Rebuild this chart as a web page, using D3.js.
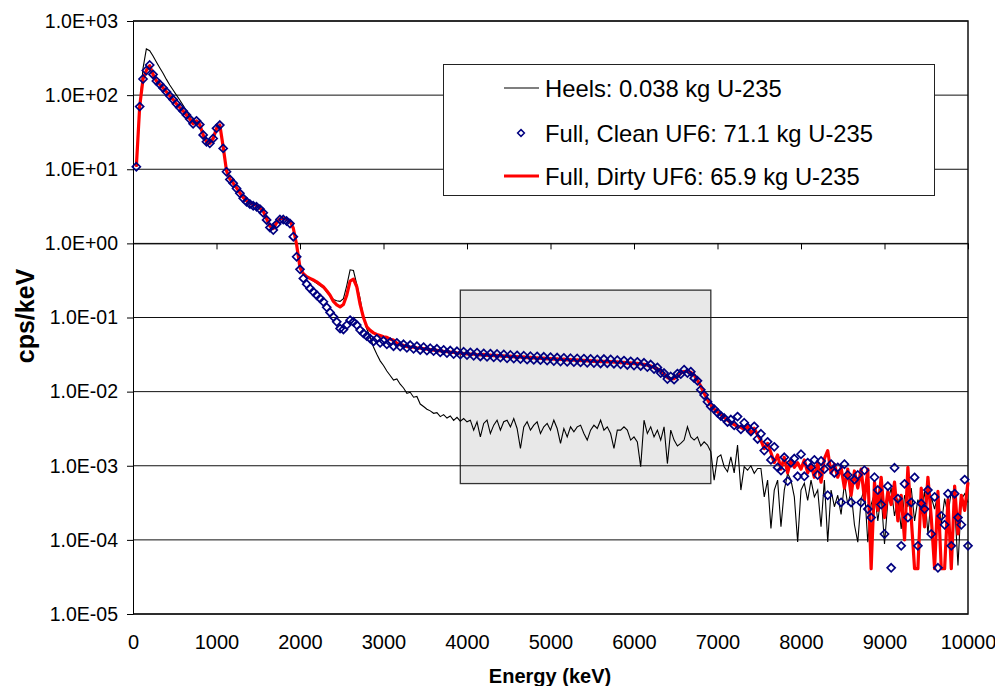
<!DOCTYPE html>
<html>
<head>
<meta charset="utf-8">
<script src="https://cdn.jsdelivr.net/npm/d3@7"></script>
<style>
body { margin: 0; background: #fff; }
text { font-family: Arial, "Liberation Sans", sans-serif; }
</style>
</head>
<body>
<div class="chart"></div>
<script>
// energy bins (keV), 40 keV wide
const energy = d3.range(40, 10001, 40);

// Heels: 0.038 kg U-235
const heels = [
  10.8, 70, 230, 420, 398, 337, 280, 234, 197, 163,
  137, 117, 100, 86, 73, 61.6, 51, 43, 45.5, 40.5,
  29.5, 24, 23, 26.5, 36, 40, 20, 9.5, 7.4, 6.5,
  5.6, 4.8, 4.15, 3.75, 3.5, 3.35, 3.25, 3.0, 2.7, 2.15,
  1.7, 1.58, 1.9, 2.15, 2.18, 2.1, 2.0, 1.6, 0.95, 0.47,
  0.39, 0.35, 0.33, 0.31, 0.29, 0.27, 0.25, 0.22, 0.195, 0.175,
  0.168, 0.165, 0.18, 0.27, 0.44, 0.43, 0.28, 0.18, 0.1, 0.07,
  0.055, 0.04, 0.032, 0.026, 0.0225, 0.019, 0.0165, 0.0143, 0.0148, 0.0126,
  0.0112, 0.0095, 0.0098, 0.0084, 0.0086, 0.0068, 0.0063, 0.0058, 0.0055, 0.0051,
  0.0052, 0.0046, 0.0049, 0.0044, 0.0047, 0.0041, 0.0045, 0.004, 0.00434, 0.00392,
  0.00412, 0.00302, 0.00392, 0.00245, 0.00372, 0.00412, 0.00272, 0.00353, 0.00412, 0.00302,
  0.00392, 0.00412, 0.00335, 0.00434, 0.00318, 0.00171, 0.00335, 0.00392, 0.00302, 0.00353,
  0.00392, 0.00272, 0.00335, 0.00372, 0.00302, 0.00412, 0.00318, 0.002, 0.00318, 0.00245,
  0.00335, 0.00287, 0.00335, 0.00353, 0.00272, 0.00222, 0.00302, 0.00353, 0.00318, 0.00412,
  0.00302, 0.00335, 0.00272, 0.00171, 0.00302, 0.00302, 0.00335, 0.00302, 0.00222, 0.00245,
  0.0021, 0.00097, 0.00412, 0.00272, 0.00335, 0.00245, 0.00302, 0.00222, 0.00335, 0.00107,
  0.00302, 0.00222, 0.00185, 0.002, 0.00222, 0.00335, 0.00245, 0.00222, 0.00245, 0.00185,
  0.0021, 0.0019, 0.00155, 0.00064, 0.0013, 0.0014, 0.00097, 0.00083, 0.00132, 0.0008,
  0.0019, 0.00047, 0.00097, 0.00087, 0.001, 0.00079, 0.00092, 0.00092, 0.00038, 0.00064,
  0.000143, 0.00047, 0.00064, 0.00015, 0.00047, 0.00079, 0.00064, 0.00038, 0.000094, 0.00047,
  0.00058, 0.00034, 0.00064, 0.00038, 0.00047, 0.00015, 0.00064, 0.000094, 0.00047, 0.00028,
  0.0004, 0.00022, 0.00058, 0.0003, 0.00045, 0.00016, 0.000093, 0.00035, 0.0005, 0.000093,
  0.0003, 0.00042, 0.00018, 0.0004, 0.000088, 0.00033, 0.0005, 0.00021, 0.00036, 0.00014,
  0.0004, 0.00028, 0.0005, 0.00018, 0.00035, 0.00025, 0.00045, 0.00012, 0.00038, 0.00026,
  0.00042, 0.00016, 0.00036, 0.00022, 0.00045, 0.0003, 0.000045, 0.00035, 0.00042, 0.00032
];

// Full, Clean UF6: 71.1 kg U-235
const clean = [
  10.8, 70, 165, 215, 255, 190, 155, 140, 125, 111,
  98, 87, 76.5, 68, 61, 54, 47.5, 41, 45, 40,
  29, 23.5, 22.4, 26, 35.6, 39.5, 19.1, 9.25, 7.3, 6.45,
  5.5, 4.73, 4.05, 3.65, 3.39, 3.22, 3.12, 2.9, 2.59, 2.07,
  1.64, 1.51, 1.82, 2.1, 2.1, 2.0, 1.85, 1.23, 0.66, 0.446,
  0.337, 0.282, 0.247, 0.222, 0.2, 0.181, 0.163, 0.137, 0.117, 0.102,
  0.0875, 0.071, 0.069, 0.079, 0.092, 0.0875, 0.079, 0.0676, 0.061, 0.056,
  0.052, 0.0475, 0.0515, 0.0455, 0.0485, 0.0435, 0.0465, 0.041, 0.0455, 0.0405,
  0.0435, 0.039, 0.0425, 0.0378, 0.041, 0.0365, 0.0398, 0.0358, 0.0385, 0.0352,
  0.0378, 0.0338, 0.0365, 0.0332, 0.0358, 0.0322, 0.035, 0.0316, 0.0345, 0.0312,
  0.0338, 0.0305, 0.0335, 0.0298, 0.0328, 0.0295, 0.0325, 0.029, 0.0322, 0.0288,
  0.0318, 0.0282, 0.0312, 0.0279, 0.0308, 0.0275, 0.0305, 0.027, 0.03, 0.0268,
  0.0298, 0.0266, 0.0295, 0.0262, 0.0292, 0.0258, 0.0288, 0.0255, 0.0285, 0.0252,
  0.0282, 0.025, 0.028, 0.0248, 0.0278, 0.0245, 0.0276, 0.0243, 0.0272, 0.024,
  0.0275, 0.0242, 0.0272, 0.0238, 0.0266, 0.0234, 0.0262, 0.0229, 0.0256, 0.0225,
  0.0252, 0.0222, 0.0245, 0.0215, 0.0232, 0.0202, 0.0212, 0.0178, 0.0178, 0.0148,
  0.016, 0.0145, 0.0175, 0.0172, 0.0198, 0.0178, 0.0186, 0.0152, 0.014, 0.0106,
  0.009, 0.0073, 0.0063, 0.0058, 0.0052, 0.0047, 0.0044, 0.0039, 0.0042, 0.0035,
  0.0046, 0.0031, 0.0038, 0.0033, 0.0029, 0.0034, 0.0023, 0.0027, 0.0016, 0.0021,
  0.0012, 0.0018, 0.00095, 0.00086, 0.0013, 0.00062, 0.0011, 0.00125, 0.00072, 0.00143,
  0.00072, 0.0011, 0.00095, 0.0012, 0.00075, 0.00116, 0.0009, 0.0004, 0.00105, 0.0008,
  0.00095, 0.00032, 0.00105, 0.00075, 0.00032, 0.00065, 0.00075, 0.00032, 0.00087, 0.00026,
  0.0002, 0.0007, 0.00047, 0.0003, 0.00012, 0.00053, 0.000042, 0.00094, 0.00036, 0.000083,
  0.00057, 0.0002, 0.00032, 0.000695, 0.000083, 0.00031, 0.00026, 0.00047, 0.00012, 0.00038,
  0.000042, 0.00021, 0.00016, 0.00042, 0.000083, 0.00042, 0.0002, 0.00016, 0.00065, 0.000083
];

// Full, Dirty UF6: 65.9 kg U-235
const dirty = [
  10.8, 70, 165, 215, 250, 190, 155, 140, 125, 111,
  98, 87, 76.5, 68, 61, 54, 47.5, 41, 45, 40,
  29, 23.5, 22.4, 26, 35.6, 39.5, 20, 9.5, 7.4, 6.5,
  5.6, 4.8, 4.15, 3.75, 3.5, 3.35, 3.25, 3.0, 2.7, 2.15,
  1.7, 1.58, 1.9, 2.15, 2.18, 2.1, 2.0, 1.6, 0.95, 0.47,
  0.39, 0.355, 0.337, 0.32, 0.303, 0.28, 0.26, 0.23, 0.2, 0.165,
  0.148, 0.139, 0.15, 0.2, 0.31, 0.33, 0.26, 0.15, 0.1, 0.075,
  0.067, 0.062, 0.059, 0.057, 0.055, 0.054, 0.051, 0.0495, 0.045, 0.043,
  0.042, 0.0405, 0.04, 0.0398, 0.039, 0.0385, 0.038, 0.0375, 0.037, 0.0362,
  0.036, 0.0355, 0.035, 0.0346, 0.0342, 0.0338, 0.0333, 0.033, 0.0326, 0.0322,
  0.032, 0.0322, 0.0316, 0.0312, 0.0318, 0.0308, 0.0312, 0.0305, 0.0308, 0.0302,
  0.0304, 0.0298, 0.0301, 0.0295, 0.0297, 0.0291, 0.0294, 0.0287, 0.029, 0.0284,
  0.0286, 0.028, 0.0284, 0.0277, 0.028, 0.0274, 0.0277, 0.0271, 0.0274, 0.0268,
  0.0271, 0.0265, 0.0268, 0.0262, 0.0265, 0.0259, 0.0262, 0.0256, 0.0259, 0.0254,
  0.0257, 0.0251, 0.0255, 0.0249, 0.0252, 0.0245, 0.0248, 0.0241, 0.0244, 0.0238,
  0.024, 0.0236, 0.0234, 0.0228, 0.0222, 0.0212, 0.0203, 0.0188, 0.0174, 0.0155,
  0.0148, 0.015, 0.0162, 0.0178, 0.0187, 0.0187, 0.0182, 0.0168, 0.0142, 0.0118,
  0.0095, 0.0078, 0.0066, 0.0058, 0.0053, 0.0049, 0.0045, 0.0041, 0.0038, 0.0036,
  0.0034, 0.0033, 0.0031, 0.0034, 0.0027, 0.0032, 0.0026, 0.0022, 0.0017, 0.002,
  0.0015, 0.0011, 0.0014, 0.0009, 0.0013, 0.0008, 0.0012, 0.00095, 0.0011, 0.0009,
  0.0012, 0.0008, 0.00105, 0.0007, 0.0011, 0.0006, 0.00125, 0.0016, 0.0008, 0.00105,
  0.0007, 0.00095, 0.0005, 0.0009, 0.0004, 0.00085, 0.0005, 0.0009, 0.00035, 0.0009,
  0.000041, 0.0006, 0.00025, 0.0007, 0.0002, 0.00045, 0.0003, 0.0006, 0.00018, 0.0004,
  0.0001, 0.00095, 0.0002, 0.000041, 0.000041, 0.0005, 0.00015, 0.0007, 0.0002, 0.000041,
  0.00045, 0.000041, 0.000041, 0.00035, 0.000041, 0.00053, 0.00012, 0.0004, 0.00025, 0.0006
];

const legendLabels = ['Heels: 0.038 kg U-235', 'Full, Clean UF6: 71.1 kg U-235', 'Full, Dirty UF6: 65.9 kg U-235'];
const xTicks = [0, 1000, 2000, 3000, 4000, 5000, 6000, 7000, 8000, 9000, 10000];
const yTicks = [1e-5, 1e-4, 1e-3, 1e-2, 1e-1, 1, 10, 100, 1000];
// highlighted region (keV, cps/keV)
const boxE = [3920, 6920];
const boxV = [5.75e-4, 0.234];

const W = 995, H = 686;
const plot = {left: 133, right: 968, top: 21, bottom: 614};

const svg = d3.select('.chart').append('svg').attr('width', W).attr('height', H);

const x = d3.scaleLinear().domain([0, 10000]).range([plot.left, plot.right]);
const y = d3.scaleLog().domain([1e-5, 1e3]).range([plot.bottom, plot.top]);

//1.0E+03 style labels
const fmtE = v => {
    const e = Math.round(Math.log10(v));
    return '1.0E' + (e < 0 ? '-' : '+') + String(Math.abs(e)).padStart(2, '0');
};

// shaded box
svg.append('rect')
    .attr('x', x(boxE[0])).attr('y', y(boxV[1]))
    .attr('width', x(boxE[1]) - x(boxE[0])).attr('height', y(boxV[0]) - y(boxV[1]))
    .style('fill', '#e8e8e8').style('stroke', '#333').style('stroke-width', 1.3);

// gridlines
svg.append('g').selectAll('line').data(yTicks).enter().append('line')
    .attr('x1', plot.left).attr('x2', plot.right)
    .attr('y1', d => y(d)).attr('y2', d => y(d))
    .style('stroke', '#111').style('stroke-width', 1);

// border right + top + bottom
svg.append('path')
    .attr('d', `M${plot.left},${plot.top}H${plot.right}V${plot.bottom}H${plot.left}`)
    .style('fill', 'none').style('stroke', '#111').style('stroke-width', 1.5);

// y axis
const yAxis = d3.axisLeft(y).tickValues(yTicks).tickFormat(fmtE).tickSizeInner(6).tickSizeOuter(0).tickPadding(9);
const yAxisDraw = svg.append('g').attr('transform', `translate(${plot.left},0)`).call(yAxis);
yAxisDraw.selectAll('text').style('font-size', '19.5px').style('fill', '#000');
yAxisDraw.selectAll('line,path').style('stroke', '#000');

// x axis crosses at 1.0 (ticks only), labels along the bottom
const xAxis = d3.axisBottom(x).tickValues(xTicks).tickFormat('').tickSizeInner(6).tickSizeOuter(0);
const xAxisDraw = svg.append('g').attr('transform', `translate(0,${y(1)})`).call(xAxis);
xAxisDraw.selectAll('line,path').style('stroke', '#000');

const xLabels = d3.axisBottom(x).tickValues(xTicks).tickFormat(d3.format('d')).tickSize(0).tickPadding(21);
const xLabelsDraw = svg.append('g').attr('transform', `translate(0,${plot.bottom})`).call(xLabels);
xLabelsDraw.select('.domain').remove();
xLabelsDraw.selectAll('text').style('font-size', '20px').style('fill', '#000');

// series
const specLine = d3.line().x((d, i) => x(energy[i])).y(d => y(d));
svg.append('path').datum(heels).attr('d', specLine)
    .style('fill', 'none').style('stroke', '#000').style('stroke-width', 1.1);

svg.append('path').datum(dirty).attr('d', specLine)
    .style('fill', 'none').style('stroke', '#ff0000').style('stroke-width', 3.2)
    .style('stroke-linejoin', 'round');

const diamond = r => `M0,${-r}L${r},0L0,${r}L${-r},0Z`;
svg.append('g').selectAll('.pt').data(clean).enter().append('path').attr('class', 'pt')
    .attr('d', diamond(4))
    .attr('transform', (d, i) => `translate(${x(energy[i])},${y(d)})`)
    .style('fill', 'none').style('stroke', '#000080').style('stroke-width', 1.7);

// legend
const legend = svg.append('g').attr('class', 'legend');
legend.append('rect').attr('x', 443.5).attr('y', 64.5).attr('width', 491).attr('height', 131)
    .style('fill', '#fff').style('stroke', '#222').style('stroke-width', 1);
const rowsY = [88, 133, 176];
legend.append('line').attr('x1', 504).attr('x2', 539).attr('y1', rowsY[0]).attr('y2', rowsY[0])
    .style('stroke', '#000').style('stroke-width', 1.1);
legend.append('path').attr('d', diamond(3.4)).attr('transform', `translate(521,${rowsY[1]})`)
    .style('fill', 'none').style('stroke', '#000080').style('stroke-width', 1.5);
legend.append('line').attr('x1', 504).attr('x2', 539).attr('y1', rowsY[2]).attr('y2', rowsY[2])
    .style('stroke', '#ff0000').style('stroke-width', 3.2);
legend.selectAll('.lt').data(legendLabels).enter().append('text').attr('class', 'lt')
    .attr('x', 545).attr('y', (d, i) => rowsY[i]).attr('dy', '0.36em')
    .style('font-size', '23.8px').text(d => d);

// axis titles
svg.append('text').attr('transform', 'translate(34,316) rotate(-90)')
    .attr('text-anchor', 'middle').style('font-size', '25px').style('font-weight', 'bold')
    .text('cps/keV');
svg.append('text').attr('x', 550).attr('y', 683)
    .attr('text-anchor', 'middle').style('font-size', '20px').style('font-weight', 'bold')
    .text('Energy (keV)');
</script>
</body>
</html>
